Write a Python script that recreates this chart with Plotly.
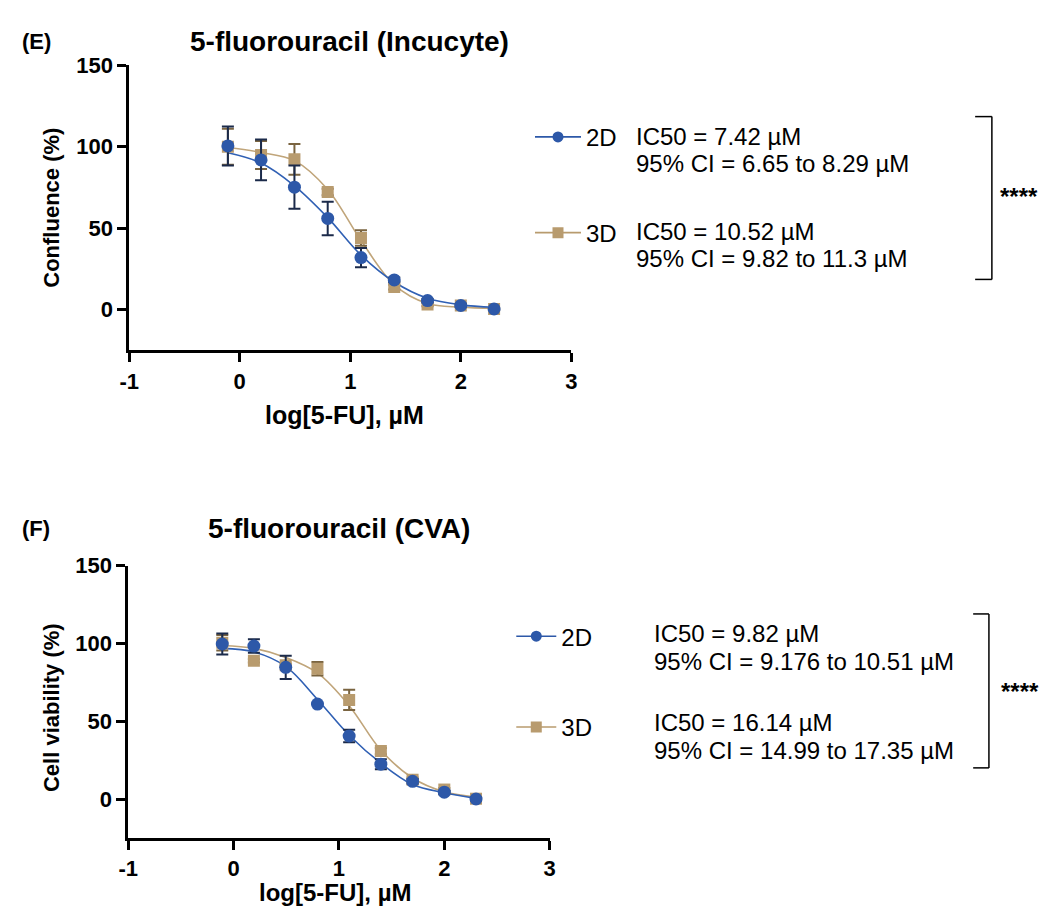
import plotly.graph_objects as go

# ---------------- data ----------------
log_dose = [-0.107, 0.193, 0.495, 0.796, 1.097, 1.398, 1.699, 2.0, 2.301]

# (E) Incucyte confluence (%)
inc_2d = [100.5, 91.9, 75.2, 56.0, 32.0, 18.3, 5.6, 2.6, 0.5]
inc_2d_err = [12.0, 12.5, 13.3, 10.3, 5.9, 1.5, 1.0, 1.0, 0.5]
inc_3d = [100.0, 95.0, 92.3, 72.3, 44.0, 13.9, 3.2, 2.6, 0.5]
inc_3d_err = [11.0, 8.6, 9.4, 2.0, 4.7, 1.5, 1.0, 0.5, 0.5]
inc_2d_fit = [96.3, 90.0, 76.0, 56.5, 33.5, 17.0, 7.0, 3.0, 1.5]
inc_3d_fit = [99.5, 96.5, 91.5, 73.8, 42.5, 15.3, 3.8, 1.6, 0.9]

# (F) CVA cell viability (%)
cva_2d = [99.6, 98.3, 84.6, 61.0, 40.5, 22.4, 11.4, 4.4, 0.0]
cva_2d_err = [6.8, 4.3, 7.5, 0.0, 4.0, 3.2, 1.5, 1.0, 1.0]
cva_3d = [100.4, 88.8, 86.0, 83.7, 63.7, 30.8, 12.4, 6.1, 0.2]
cva_3d_err = [5.0, 1.0, 1.0, 4.3, 6.5, 2.0, 1.5, 1.0, 0.5]
cva_2d_fit = [96.8, 94.5, 85.2, 64.0, 41.0, 23.0, 9.3, 4.0, 0.4]
cva_3d_fit = [98.7, 96.8, 91.0, 81.0, 60.0, 31.4, 13.5, 4.6, 1.3]

x_ticks = [-1, 0, 1, 2, 3]
x_tick_labels = ["-1", "0", "1", "2", "3"]
y_ticks = [0, 50, 100, 150]

inc_text = {
    "2D": ["IC50 = 7.42 µM", "95% CI = 6.65 to 8.29 µM"],
    "3D": ["IC50 = 10.52 µM", "95% CI = 9.82 to 11.3 µM"],
}
cva_text = {
    "2D": ["IC50 = 9.82 µM", "95% CI = 9.176 to 10.51 µM"],
    "3D": ["IC50 = 16.14 µM", "95% CI = 14.99 to 17.35 µM"],
}

# ---------------- style ----------------
W, H = 1055, 908
FONT = "Liberation Sans, Arial, Helvetica, sans-serif"
BLUE = "#2D58A8"
BLUE_LINE = "#3060B4"
BLUE_ERR = "#1B2A4A"
TAN = "#B89B6E"
TAN_LINE = "#C0A57A"
TAN_ERR = "#7A6440"


def px(x):
    return x / W


def py(y):
    return 1 - y / H


fig = go.Figure()


def add_panel(xa, ya, d2, e2, f2, d3, e3, f3):
    fig.add_trace(go.Scatter(x=log_dose, y=f3, mode="lines", line=dict(color=TAN_LINE, width=1.6, shape="spline"),
                             xaxis=xa, yaxis=ya, showlegend=False, hoverinfo="skip"))
    fig.add_trace(go.Scatter(x=log_dose, y=f2, mode="lines", line=dict(color=BLUE_LINE, width=1.6, shape="spline"),
                             xaxis=xa, yaxis=ya, showlegend=False, hoverinfo="skip"))
    fig.add_trace(go.Scatter(x=log_dose, y=d3, mode="markers",
                             marker=dict(symbol="square", size=12, color=TAN),
                             error_y=dict(type="data", array=e3, color=TAN_ERR, thickness=2, width=6),
                             xaxis=xa, yaxis=ya, showlegend=False))
    fig.add_trace(go.Scatter(x=log_dose, y=d2, mode="markers",
                             marker=dict(symbol="circle", size=13, color=BLUE),
                             error_y=dict(type="data", array=e2, color=BLUE_ERR, thickness=2, width=6),
                             xaxis=xa, yaxis=ya, showlegend=False))


add_panel("x", "y", inc_2d, inc_2d_err, inc_2d_fit, inc_3d, inc_3d_err, inc_3d_fit)
add_panel("x2", "y2", cva_2d, cva_2d_err, cva_2d_fit, cva_3d, cva_3d_err, cva_3d_fit)

# legend-only entries
legend_specs = [
    ("2D", BLUE, "circle", "legend"),
    ("3D", TAN, "square", "legend2"),
    ("2D", BLUE, "circle", "legend3"),
    ("3D", TAN, "square", "legend4"),
]
for name, col, sym, lg in legend_specs:
    fig.add_trace(go.Scatter(x=[None], y=[None], mode="lines+markers", name=name,
                             line=dict(color=col, width=1.6),
                             marker=dict(symbol=sym, size=11, color=col),
                             legend=lg, showlegend=True))

axis_common = dict(
    showline=True, linecolor="black", linewidth=2.5,
    ticks="outside", ticklen=9, tickwidth=2.5, tickcolor="black",
    showgrid=False, zeroline=False,
    tickfont=dict(family=FONT, size=22, color="black", weight="bold"),
)

fig.update_layout(
    width=W, height=H, autosize=False,
    margin=dict(l=0, r=0, t=0, b=0),
    paper_bgcolor="white", plot_bgcolor="white",
    xaxis=dict(domain=[px(121), px(570)], range=[-1, 3], tickvals=x_ticks, ticktext=x_tick_labels,
               anchor="y", **axis_common),
    yaxis=dict(domain=[py(343), py(54)], range=[-25, 150], tickvals=y_ticks, anchor="x", **axis_common),
    xaxis2=dict(domain=[px(120), px(548)], range=[-1, 3], tickvals=x_ticks, ticktext=x_tick_labels,
                anchor="y2", **axis_common),
    yaxis2=dict(domain=[py(837), py(561)], range=[-25, 150], tickvals=y_ticks, anchor="x2", **axis_common),
)

leg_common = dict(xanchor="left", yanchor="middle", bgcolor="rgba(0,0,0,0)",
                  font=dict(family=FONT, size=24, color="black"), itemwidth=46)
fig.update_layout(
    legend=dict(x=px(528), y=py(127), **leg_common),
    legend2=dict(x=px(528), y=py(224), **leg_common),
    legend3=dict(x=px(509), y=py(633), **{**leg_common, "itemwidth": 40}),
    legend4=dict(x=px(509), y=py(725), **{**leg_common, "itemwidth": 40}),
)

ann = []


def text(x, y, s, size, bold=False, xanchor="left", angle=0):
    ann.append(dict(x=px(x), y=py(y), xref="paper", yref="paper", text=s, showarrow=False,
                    xanchor=xanchor, yanchor="middle", textangle=angle,
                    font=dict(family=FONT, size=size, color="black", weight="bold" if bold else "normal")))


# panel labels & titles
text(10, 30, "(E)", 22, True)
text(345, 30, "5-fluorouracil (Incucyte)", 28, True, "center")
text(10, 523, "(F)", 22, True)
text(334, 523, "5-fluorouracil (CVA)", 28, True, "center")

# axis titles
text(42, 198, "Confluence (%)", 22, True, "center", -90)
text(340, 408, "log[5-FU], µM", 25, True, "center")
text(42, 705, "Cell viability (%)", 22, True, "center", -90)
text(330, 892, "log[5-FU], µM", 24, True, "center")

# IC50 text
for key, ys in (("2D", (126, 154)), ("3D", (222, 250))):
    for line, yy in zip(inc_text[key], ys):
        text(634, yy, line, 24)
for key, ys in (("2D", (630, 658)), ("3D", (720, 748))):
    for line, yy in zip(cva_text[key], ys):
        text(652, yy, line, 24)

# significance
text(1025, 187, "****", 24, True, "center")
text(1026, 689, "****", 24, True, "center")

fig.update_layout(annotations=ann)

shapes = []
for (xl, xr, yt, yb) in ((980, 997, 106, 271), (978, 994, 610, 766)):
    for seg in ((xl, yt, xr, yt), (xr, yt, xr, yb), (xl, yb, xr, yb)):
        shapes.append(dict(type="line", xref="paper", yref="paper",
                           x0=px(seg[0]), y0=py(seg[1]), x1=px(seg[2]), y1=py(seg[3]),
                           line=dict(color="black", width=1.5)))
fig.update_layout(shapes=shapes)

fig.write_html("out.html", config={"displayModeBar": False},
               post_script="document.body.style.margin='0';document.body.style.overflow='hidden';")
